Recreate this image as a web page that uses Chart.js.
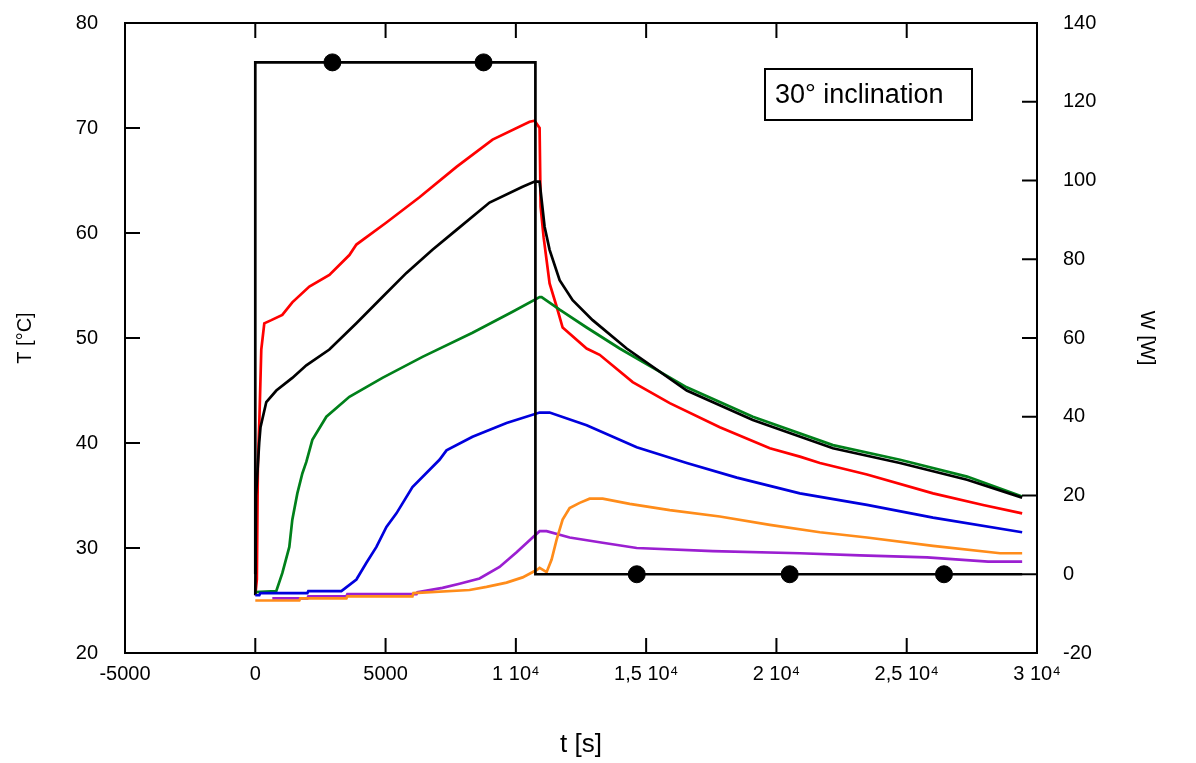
<!DOCTYPE html>
<html><head><meta charset="utf-8">
<script src="https://cdn.jsdelivr.net/npm/chart.js@4.4.0/dist/chart.umd.min.js"></script>
<style>html,body{margin:0;padding:0;background:#fff}#wrap{width:1196px;height:763px}</style>
</head><body><div id="wrap"><canvas id="c" width="1196" height="763"></canvas></div>
<script>
// ---- data (t in s, T in °C, W in W) ----
const xTickValues = [-5000, 0, 5000, 10000, 15000, 20000, 25000, 30000];
const xTickLabels = ['-5000', '0', '5000', '1 10\u2074', '1,5 10\u2074', '2 10\u2074', '2,5 10\u2074', '3 10\u2074'];
const yTickValues = [20, 30, 40, 50, 60, 70, 80];
const wTickValues = [-20, 0, 20, 40, 60, 80, 100, 120, 140];

const tRed = [0, 60, 100, 154, 230, 346, 615, 1037, 1421, 2075, 2843, 3611, 3880, 5033, 6301, 7722, 9106, 10527, 10720, 10911, 10950, 11065, 11295, 11564, 11795, 12717, 13216, 14484, 15906, 17827, 19748, 20900, 21669, 23474, 26010, 27931, 29430];
const TRed = [25.5, 27, 38, 41.9, 48.9, 51.4, 51.7, 52.2, 53.4, 54.9, 56, 57.9, 58.9, 61, 63.4, 66.3, 68.9, 70.6, 70.7, 70, 62.5, 59.6, 55.2, 53, 51, 49, 48.4, 45.8, 43.8, 41.5, 39.5, 38.7, 38.1, 37, 35.2, 34.1, 33.3];

const tBlack = [0, 30, 150, 200, 423, 807, 1421, 1959, 2843, 3880, 4879, 5801, 6800, 7722, 8990, 10258, 10720, 10911, 11103, 11295, 11680, 12179, 12947, 14254, 16559, 19095, 22168, 24742, 27316, 29430];
const TBlack = [25.5, 35, 40, 41.5, 43.9, 45, 46.2, 47.4, 48.9, 51.4, 53.9, 56.2, 58.4, 60.3, 62.9, 64.4, 64.9, 64.9, 60.6, 58.4, 55.5, 53.6, 51.7, 49, 45, 42.2, 39.5, 38.1, 36.5, 34.8];

const tGreen = [0, 807, 1037, 1306, 1421, 1614, 1806, 1959, 2190, 2728, 3611, 4879, 6416, 8337, 9874, 10911, 10988, 11680, 12717, 13985, 16559, 19095, 22168, 24742, 27316, 29430];
const TGreen = [25.8, 25.9, 27.6, 30.1, 32.7, 35.2, 37.1, 38.2, 40.3, 42.5, 44.4, 46.2, 48.2, 50.5, 52.5, 53.9, 53.9, 52.7, 51, 49, 45.3, 42.5, 39.8, 38.4, 36.8, 34.9];

const tBlue = [0, 154, 192, 1998, 2036, 3304, 3880, 4265, 4649, 5033, 5417, 6032, 7069, 7338, 8337, 9643, 10911, 11295, 12717, 14638, 16559, 18480, 20900, 23474, 26010, 29430];
const TBlue = [25.5, 25.5, 25.7, 25.7, 25.9, 25.9, 27, 28.6, 30.1, 32, 33.3, 35.8, 38.4, 39.3, 40.6, 41.9, 42.9, 42.9, 41.7, 39.6, 38.1, 36.7, 35.2, 34.1, 32.9, 31.5];

const tPurple = [653, 1998, 2036, 3496, 3534, 6186, 6224, 7185, 7838, 8606, 9374, 10028, 10643, 10911, 11180, 12064, 13332, 14638, 17558, 20900, 23205, 25780, 28123, 29430];
const TPurple = [25.2, 25.2, 25.4, 25.4, 25.6, 25.6, 25.8, 26.2, 26.6, 27.1, 28.2, 29.6, 31, 31.6, 31.6, 31, 30.5, 30, 29.7, 29.5, 29.3, 29.1, 28.7, 28.7];

const tOrange = [0, 1690, 1728, 3496, 3534, 6032, 6070, 8222, 8875, 9643, 10258, 10796, 10911, 11180, 11372, 11564, 11795, 12064, 12448, 12832, 13332, 14369, 15906, 17827, 19748, 21669, 23474, 26010, 28584, 29430];
const TOrange = [25, 25, 25.2, 25.2, 25.4, 25.4, 25.7, 26, 26.3, 26.7, 27.2, 27.9, 28.1, 27.7, 28.9, 30.8, 32.7, 33.8, 34.3, 34.7, 34.7, 34.2, 33.6, 33, 32.2, 31.5, 31, 30.2, 29.5, 29.5];

const tPower = [0, 0, 10750, 10750, 29430];
const wPower = [0, 130, 130, 0, 0];
const tMarkers = [2960, 8760, 14640, 20510, 26430];
const wMarkers = [130, 130, 0, 0, 0];

const annotationText = '30\u00B0 inclination';

// ---- build ----
const pts = (ts, vs) => ts.map((t, i) => ({x: t, y: vs[i]}));
const FONT = '"Liberation Sans", Arial, Helvetica, sans-serif';
const line = (data, color, axis) => ({
  data, borderColor: color, backgroundColor: color, borderWidth: 2.7,
  pointRadius: 0, tension: 0, fill: false, yAxisID: axis || 'y'
});
const noPad = s => { s.paddingTop = 0; s.paddingBottom = 0; s.paddingLeft = 0; s.paddingRight = 0; };

const framePlugin = {
  id: 'frame',
  afterDatasetsDraw(chart) {
    const {ctx, chartArea: a, scales} = chart;
    ctx.save();
    ctx.strokeStyle = '#000';
    ctx.lineWidth = 2;
    ctx.strokeRect(a.left, a.top, a.right - a.left, a.bottom - a.top);
    const TL = 15;
    ctx.beginPath();
    xTickValues.forEach(v => {
      const px = scales.x.getPixelForValue(v);
      ctx.moveTo(px, a.bottom); ctx.lineTo(px, a.bottom - TL);
      ctx.moveTo(px, a.top); ctx.lineTo(px, a.top + TL);
    });
    yTickValues.forEach(v => {
      const py = scales.y.getPixelForValue(v);
      ctx.moveTo(a.left, py); ctx.lineTo(a.left + TL, py);
    });
    wTickValues.forEach(v => {
      const py = scales.y2.getPixelForValue(v);
      ctx.moveTo(a.right, py); ctx.lineTo(a.right - TL, py);
    });
    ctx.stroke();
    // annotation box
    const bx = 765, by = 69, bw = 207, bh = 51;
    ctx.lineWidth = 2;
    ctx.strokeRect(bx, by, bw, bh);
    ctx.fillStyle = '#000';
    ctx.font = '27px ' + FONT;
    ctx.textBaseline = 'middle';
    ctx.textAlign = 'left';
    ctx.fillText(annotationText, bx + 10, by + bh / 2 + 1);
    ctx.restore();
  }
};

new Chart(document.getElementById('c'), {
  type: 'line',
  data: {
    datasets: [
      line(pts(tPower, wPower), '#000000', 'y2'),
      {
        type: 'scatter', data: pts(tMarkers, wMarkers), yAxisID: 'y2',
        pointRadius: 8.5, pointBackgroundColor: '#000', pointBorderColor: '#000', showLine: false
      },
      line(pts(tOrange, TOrange), '#ff8c1a'),
      line(pts(tPurple, TPurple), '#9b1fd1'),
      line(pts(tBlue, TBlue), '#0000dd'),
      line(pts(tBlack, TBlack), '#000000'),
      line(pts(tGreen, TGreen), '#00801a'),
      line(pts(tRed, TRed), '#ff0000')
    ]
  },
  options: {
    responsive: false,
    animation: false,
    devicePixelRatio: 1,
    layout: {padding: {top: 23, left: 0, right: 0, bottom: 0}},
    plugins: {legend: {display: false}, tooltip: {enabled: false}},
    scales: {
      x: {
        type: 'linear', position: 'bottom', min: -5000, max: 30000,
        afterFit(s) { s.height = 110; noPad(s); },
        grid: {display: false, drawTicks: false},
        border: {display: false},
        ticks: {
          stepSize: 5000, autoSkip: false, maxRotation: 0, padding: 9,
          color: '#000', font: {family: FONT, size: 20},
          callback: v => { const i = xTickValues.indexOf(v); return i >= 0 ? xTickLabels[i] : ''; }
        },
        title: {display: true, text: 't [s]', color: '#000', font: {family: FONT, size: 26}, padding: {top: 0, bottom: 3}}
      },
      y: {
        type: 'linear', position: 'left', min: 20, max: 80,
        afterFit(s) { s.width = 125; noPad(s); },
        grid: {display: false, drawTicks: false},
        border: {display: false},
        ticks: {stepSize: 10, padding: 27, color: '#000', font: {family: FONT, size: 20}},
        title: {display: true, text: 'T [\u00B0C]', color: '#000', font: {family: FONT, size: 20}, padding: {top: 13, bottom: 0}}
      },
      y2: {
        type: 'linear', position: 'right', min: -20, max: 140,
        afterFit(s) { s.width = 159; noPad(s); },
        grid: {display: false, drawTicks: false},
        border: {display: false},
        ticks: {stepSize: 20, padding: 26, color: '#000', font: {family: FONT, size: 20}},
        title: {display: true, text: 'W [W]', color: '#000', font: {family: FONT, size: 20}, padding: {top: 37, bottom: 0}}
      }
    }
  },
  plugins: [framePlugin]
});
</script></body></html>
